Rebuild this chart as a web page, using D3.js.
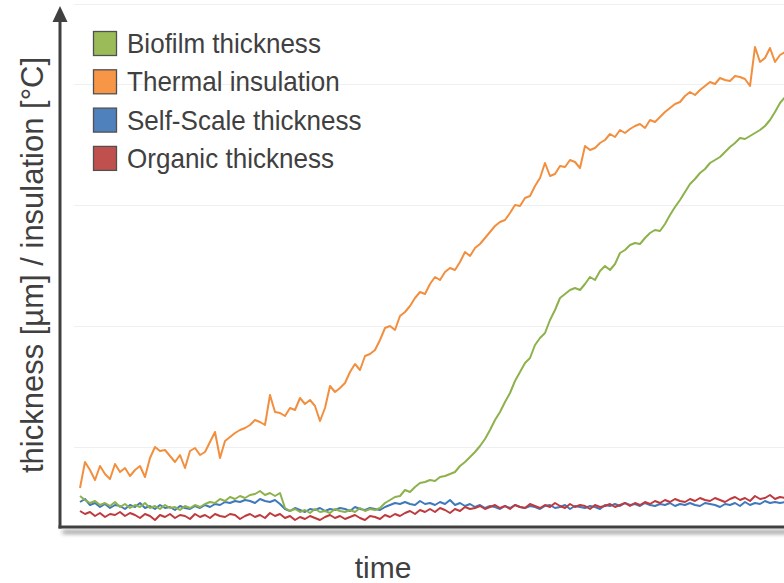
<!DOCTYPE html>
<html><head><meta charset="utf-8">
<script src="https://cdn.jsdelivr.net/npm/d3@7"></script>
<style>html,body{margin:0;padding:0;background:#fff;}svg{display:block;}</style>
</head><body>
<svg id="chart" width="784" height="583"></svg>
<script>
// ---- data (time index 0..141, values in arbitrary units) ----
const seriesNames = ["Biofilm thickness", "Thermal insulation", "Self-Scale thickness", "Organic thickness"];
const seriesColors = ["#9bbb59", "#f79646", "#4f81bd", "#c0504d"];
const lineColors = ["#8db24c", "#f28f3f", "#3f78bb", "#be3a3e"];
const gridValues = [16, 40.2, 64.4, 88.6, 104.6];

const biofilm = [6.2,5.4,4.8,5.2,4.4,4.8,4.2,5,4,4.6,
 3.8,4.4,4,4.8,3.8,4.2,3.6,4.4,3.8,4,
 3.4,4.2,3.8,4.4,4,4.6,5,4.8,5.6,5.2,
 6,5.6,6.2,5.8,6.4,6.6,7.2,6.4,6.8,6.2,
 6.8,3.8,3.2,3.6,3,3.4,2.8,3.6,3,3.2,
 2.8,3.6,3.2,3,3.4,3,3.8,3.2,3.6,3.4,
 3.8,4.8,5.4,6,6.2,7.4,7,8,8.8,9,
 9.4,9.2,10,10.2,10.6,11,12.2,13,14,15,
 16.2,17.6,19.4,21.4,23,25,26.8,29.2,31,32.8,
 33.8,36.4,37.8,38.8,41.4,43.4,45.8,46.6,47.4,47.8,
 47.4,48.6,50,49.4,51.2,52.2,51.4,52.6,54.8,55.4,
 56.4,56.8,56.6,57.8,58.8,59.4,59.2,60.6,62.4,64,
 65.4,67,68.6,69.6,70.8,71.6,72.8,73.4,74,75,
 76,76.8,77.8,77.6,78.2,78.8,79.4,80.2,81.4,83,84.8,86];

const thermal = [7.8,13,11.4,9.4,12.2,10.6,9.6,12.6,11,11.8,
 10.2,11.4,12.2,10,13.8,16,15.2,15.4,14.2,13,
 14.4,11.8,15.2,15.8,14.4,15,17,19,13.8,17.2,
 18,18.8,19.4,19.8,20.4,21.4,21,20.4,26.4,23,
 22.8,22.2,23.8,23.4,25.8,24.6,25.4,24.2,21.2,23.8,
 28.2,27,27.8,28.8,31,32.6,31.4,34.2,34.6,35.4,
 37.4,39.8,40.2,39.4,42.2,43,44.2,45.8,47,46.6,
 48.6,50,49.4,51,51.8,51.4,53,55,54.2,55.8,
 56.6,57.8,59,60.2,61,61.4,62.8,64.4,64.2,65.8,
 66.2,68.2,69.8,72.8,70.2,70.6,72.2,72,73.4,73,
 71.8,76.2,75.4,75.8,76.8,77.4,78.6,78,79.4,78.8,
 79.6,80.2,80.6,79.8,81.4,81,82,83,83.8,84.6,
 85,86.2,87,86.4,87.4,88.2,89,88.6,89.8,89.4,
 89.2,90.2,90,89.6,88.2,96,93,93.8,95.8,93,94.4,95];

const selfScale = [5.0,5.6,4.4,4.8,4.0,4.6,3.8,4.4,4.2,3.6,4.4,
 4.0,4.8,3.8,4.2,3.6,4.4,3.8,4.0,3.4,4.2,
 3.8,3.6,4.2,3.8,4.4,4.0,4.6,4.4,5.0,4.8,
 5.2,5.0,5.4,5.2,4.8,5.6,5.2,5.0,5.4,4.6,
 3.6,3.2,3.8,3.4,3.0,3.6,3.4,3.8,3.2,3.6,
 3.4,3.8,3.6,3.2,4.0,3.6,3.4,3.8,3.6,3.4,
 4.0,4.4,4.8,4.6,5.0,4.6,4.4,5.2,4.6,4.8,
 4.4,5.0,4.6,5.4,4.4,4.8,4.2,4.6,4.0,4.4,
 3.8,4.2,4.0,3.6,4.2,3.8,4.4,4.0,3.8,4.2,
 4.0,3.6,4.2,4.4,3.8,4.0,4.4,3.6,4.2,4.0,
 3.8,4.2,4.0,3.6,4.4,4.2,4.6,4.2,4.8,4.4,
 4.6,4.2,4.8,4.4,4.2,4.6,4.4,4.8,4.2,4.6,
 4.4,4.8,4.4,4.2,4.8,4.6,4.4,4.0,4.6,4.4,
 4.8,4.2,5.0,4.4,4.8,4.6,5.2,4.8,5.0,4.8,5.0];

const organic = [3.2,2.6,3.0,2.2,2.8,2.0,2.6,2.4,3.0,2.2,2.8,
 2.4,1.8,2.6,2.2,1.4,2.4,2.0,2.6,1.8,2.4,
 2.2,1.6,2.6,2.0,2.4,1.8,2.6,2.2,2.0,2.6,
 2.4,1.6,2.2,2.6,2.0,2.4,1.8,2.8,2.2,2.6,
 1.8,2.2,1.4,2.0,1.6,2.2,1.8,1.4,2.0,2.4,
 1.8,2.2,1.6,2.0,2.4,1.8,1.4,2.2,2.0,1.6,
 2.4,2.0,2.6,2.2,2.8,3.2,2.6,3.4,3.0,3.6,
 3.0,3.8,3.4,2.8,3.6,3.2,4.0,3.6,3.8,4.2,
 3.6,4.0,4.4,3.8,4.2,3.6,4.4,4.0,3.8,4.6,
 4.2,3.8,4.4,4.0,4.8,4.2,3.8,4.6,4.0,4.4,
 4.2,3.6,4.4,4.0,4.2,4.6,4.0,4.4,4.8,4.2,
 4.8,4.4,5.0,4.6,5.2,4.8,5.4,5.0,5.6,5.2,
 5.0,5.6,5.2,5.8,5.4,5.2,5.8,5.4,5.0,5.6,
 6.0,5.4,5.8,5.2,6.2,5.6,5.8,6.4,5.6,6.0,5.8];

const seriesData = [biofilm, thermal, selfScale, organic];
const drawOrder = [2, 3, 0, 1];

// ---- layout ----
const svg = d3.select("#chart");
const W = 784, H = 583;
const axisX = 60, axisY = 527;
const x = d3.scaleLinear().domain([0, 140]).range([80, 780]);
const y = d3.scaleLinear().domain([0, 104]).range([axisY, 7]);

const defs = svg.append("defs");
const f = defs.append("filter").attr("id","shadow").attr("filterUnits","userSpaceOnUse")
  .attr("x", 0).attr("y", 0).attr("width", W).attr("height", H);
f.append("feDropShadow").attr("dx",4).attr("dy",5).attr("stdDeviation",2.2).attr("flood-color","#000").attr("flood-opacity",0.5);
const clip = defs.append("clipPath").attr("id","plotclip");
clip.append("rect").attr("x", axisX+2).attr("y", 0).attr("width", W - axisX).attr("height", axisY - 1);

// gridlines
svg.append("g").selectAll("line").data(gridValues).join("line")
  .attr("x1", axisX + 14).attr("x2", W)
  .attr("y1", d => Math.round(y(d)) + 0.5).attr("y2", d => Math.round(y(d)) + 0.5)
  .attr("stroke", "#efefef").attr("stroke-width", 1);

// lines
const line = d3.line().x((d, i) => x(i)).y(d => y(d));
const lg = svg.append("g").attr("clip-path", "url(#plotclip)");
drawOrder.forEach(k => {
  lg.append("path").datum(seriesData[k])
    .attr("fill", "none").attr("stroke", lineColors[k])
    .attr("stroke-width", 2).attr("stroke-linejoin", "round")
    .attr("d", line);
});

// axes
const ax = svg.append("g").attr("filter", "url(#shadow)");
ax.append("line").attr("x1", axisX - 1.5).attr("x2", W + 5).attr("y1", axisY).attr("y2", axisY)
  .attr("stroke", "#404040").attr("stroke-width", 3);
const ay = svg.append("g");
ay.append("line").attr("x1", axisX).attr("x2", axisX).attr("y1", axisY + 1.5).attr("y2", 20)
  .attr("stroke", "#404040").attr("stroke-width", 3);
ay.append("path").attr("d", d3.line()([[axisX - 7.5, 22], [axisX, 6], [axisX + 7.5, 22]]) + "Z")
  .attr("fill", "#404040");

// axis titles
const font = "'Liberation Sans', Arial, sans-serif";
svg.append("text").attr("transform", `translate(43,${265}) rotate(-90)`)
  .attr("text-anchor", "middle").attr("font-family", font).attr("font-size", 31)
  .attr("fill", "#404040").text("thickness [µm] / insulation [°C]");
svg.append("text").attr("x", 383).attr("y", 578)
  .attr("text-anchor", "middle").attr("font-family", font).attr("font-size", 30)
  .attr("fill", "#404040").text("time");

// legend
const legendOrder = [0, 1, 2, 3];
const leg = svg.append("g");
legendOrder.forEach((k, i) => {
  const top = 31 + i * 38.3;
  leg.append("rect").attr("x", 93.5).attr("y", top + 0.5).attr("width", 23).attr("height", 24)
    .attr("fill", seriesColors[k]).attr("stroke", "#505050").attr("stroke-width", 1.3);
  const t = leg.append("text").attr("x", 127).attr("y", top + 22)
    .attr("font-family", font).attr("font-size", 28).attr("fill", "#404040")
    .text(seriesNames[k]);
  const w = t.node().getComputedTextLength();
  t.attr("textLength", w * 0.93).attr("lengthAdjust", "spacingAndGlyphs");
});
</script>
</body></html>
